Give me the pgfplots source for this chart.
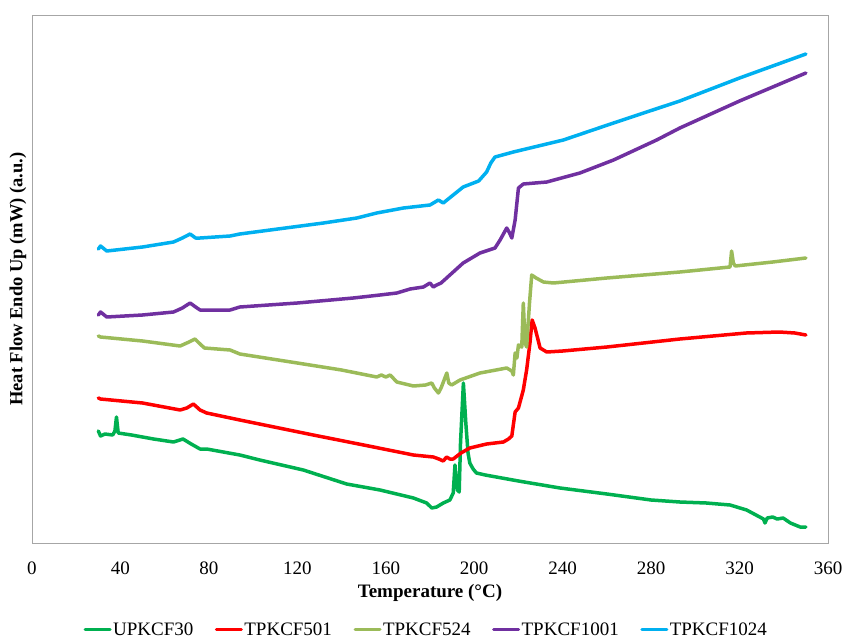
\documentclass[border=0pt]{standalone}
\usepackage{pgfplots}
\pgfplotsset{compat=1.18}
\usepackage{fontspec}
\setmainfont{Liberation Serif}
\definecolor{cgreen}{RGB}{0,176,80}
\definecolor{cred}{RGB}{255,0,0}
\definecolor{clgreen}{RGB}{155,187,89}
\definecolor{cpurple}{RGB}{112,48,160}
\definecolor{cblue}{RGB}{0,176,240}
\begin{document}
\begin{tikzpicture}
\useasboundingbox (-32pt,-98pt) rectangle (812pt,543pt);
\begin{axis}[
  scale only axis, width=796pt, height=528pt,
  xmin=0, xmax=360, ymin=0, ymax=528,
  xtick={0,40,...,360}, ytick=\empty,
  major tick length=0pt,
  axis line style={draw=black!35, line width=0.8pt},
  /pgf/number format/assume math mode=true,
  ticklabel style={font=\fontsize{19}{22}\selectfont},
  xticklabel style={anchor=center, yshift=-25.5pt},
  xlabel={Temperature (°C)},
  xlabel style={font=\bfseries\fontsize{19}{22}\selectfont, at={(axis description cs:0.5,-0.0947)}, anchor=center},
  ylabel={Heat Flow Endo Up (mW) (a.u.)},
  ylabel style={font=\bfseries\fontsize{18.5}{22}\selectfont, at={(axis description cs:-0.0176,0.5)}, anchor=center},
  legend columns=-1,
  legend style={at={(axis description cs:0.495,-0.1645)}, anchor=center, draw=none,
    font=\fontsize{19}{22}\selectfont, nodes={inner sep=1.5pt},
    /tikz/every even column/.append style={column sep=20pt}},
  legend image code/.code={\draw[#1, line width=3pt] (0pt,0pt) -- (25pt,0pt);},
  every axis plot/.append style={line width=3.5pt, line join=round, line cap=round, mark=none},
]
\addplot[cgreen] coordinates {
(30,112) (31,107) (33,109) (36.5,108) (37.5,112) (38.2,126) (39,110) (45,108) (55,104)
(64,101) (68.3,104) (72,99) (76,94) (79,94) (94,88) (103,83) (122.7,73) (142.3,59)
(157.4,53) (172.5,45) (178.5,40) (180.8,35) (183,36) (186,40) (189,43) (190.5,50)
(191.3,78) (192,60) (192.4,53) (193.2,51) (193.8,100) (195.1,160) (196.2,120) (197.2,90)
(198,80) (199.5,74) (201,70) (205,68) (210,66) (220,62) (238.8,55) (260,49) (280,43) (293,41) (305,40)
(315.7,38) (323.2,33) (330.8,24) (331.5,20) (332.5,25) (335,26) (337,24) (339.7,25)
(343,20) (347.4,16) (350,16)};
\addlegendentry{UPKCF30}
\addplot[cred] coordinates {
(30,145) (31,144) (50,140) (67,133) (70,135) (73,139) (76,133) (79,130) (94,123)
(127.2,108) (150,98) (172.5,88) (181.5,86) (184,84) (186,82) (187.5,86) (189,84)
(190.5,84) (194,90) (198,95) (205.6,99) (213.2,101) (215.5,104) (217,107) (218.5,131)
(220,135) (222.2,153) (223.7,173) (225.2,200) (226.2,223) (227.5,215) (229.8,195)
(232.8,191) (240,192) (260,196) (293,204) (323,210) (338,211) (345,210) (350,208)};
\addlegendentry{TPKCF501}
\addplot[clgreen] coordinates {
(30,207) (31,206) (50,202) (67,197) (71,201) (73.7,204) (76,199) (78,195) (89.6,193)
(94,189) (120,180) (140,173) (155.9,166) (158,168) (160,166) (162,168) (165,161)
(172.5,157) (178,158) (180.8,160) (182,155) (183.8,150) (185,155) (187.6,170) (188.5,160)
(189.8,158) (193.6,163) (202.6,170) (214.7,175) (217,172) (217.7,168) (218.5,190)
(219.3,185) (220,198) (221.5,196) (222.2,240) (223,200) (223.7,196) (225,240) (226,268)
(228,265) (231.3,261) (235.8,260) (260,265) (293,271) (315.7,276) (316.4,292) (317.2,280)
(318,277) (335,281) (350,285)};
\addlegendentry{TPKCF524}
\addplot[cpurple] coordinates {
(30,228) (31,231) (33.8,226) (50,228) (64,231) (68,235) (71.5,240) (74,236) (76,233)
(89.6,233) (94,236) (120,240) (145.3,245) (157.4,248) (165,250) (171,254) (177,256)
(180,260) (181.5,256) (183,258) (185,260) (195,280) (202.6,290) (209.4,295) (211.7,303)
(214.7,315) (216,310) (217,305) (218.5,323) (220,355) (222.2,359) (232.8,361)
(247.8,370) (263,383) (282.5,403) (293,415) (320,442) (350,470)};
\addlegendentry{TPKCF1001}
\addplot[cblue] coordinates {
(30,294) (31,297) (33.8,292) (50,296) (64,301) (68,305) (71.5,309) (74,305) (76,305)
(89.6,307) (94,309) (131.8,320) (146.9,325) (155.9,330) (168,335) (180,338) (183.8,343)
(186,340) (195,356) (202,362) (205.6,371) (207.5,380) (209.4,386) (217.7,391)
(240.3,403) (263,420) (293,442) (320,465) (350,489)};
\addlegendentry{TPKCF1024}
\end{axis}
\end{tikzpicture}
\end{document}
